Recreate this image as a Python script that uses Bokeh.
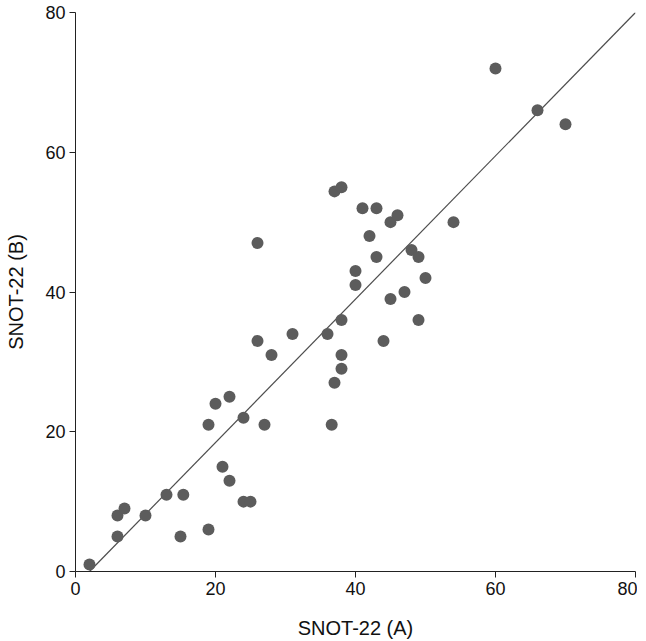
from bokeh.plotting import figure
from bokeh.models import Range1d, FixedTicker, ColumnDataSource
from bokeh.embed import file_html
from bokeh.resources import INLINE

# Data
snot_a = [2, 6, 7, 6, 10, 13, 15.4, 15, 19, 19, 20, 21, 22, 22, 24, 24, 25,
          26, 26, 27, 28, 31, 36, 36.6, 37, 37, 38, 38, 38, 38, 40, 40, 41,
          42, 43, 43, 44, 45, 45, 46, 47, 48, 49, 49, 50, 54, 60, 66, 70]
snot_b = [1, 8, 9, 5, 8, 11, 11, 5, 6, 21, 24, 15, 13, 25, 22, 10, 10,
          47, 33, 21, 31, 34, 34, 21, 27, 54.4, 55, 36, 31, 29, 43, 41, 52,
          48, 52, 45, 33, 50, 39, 51, 40, 46, 45, 36, 42, 50, 72, 66, 64]
fit_x = [2.0, 80.0]
fit_y = [0.0, 80.0]
ticks = [0, 20, 40, 60, 80]

FONT = "Liberation Sans"

p = figure(frame_width=560, frame_height=559,
           x_range=Range1d(0, 80), y_range=Range1d(0, 80),
           output_backend="svg", toolbar_location=None,
           min_border_left=75, min_border_top=12, min_border_right=2,
           min_border_bottom=8)
p.outline_line_color = None
p.grid.visible = False
p.background_fill_color = "white"

src = ColumnDataSource(dict(a=snot_a, b=snot_b))
p.line(fit_x, fit_y, line_color="#4d4d4d", line_width=1.2)
p.scatter("a", "b", source=src, size=12, fill_color="#5c5c5c",
          line_color=None)

for ax in (p.xaxis[0], p.yaxis[0]):
    ax.ticker = FixedTicker(ticks=ticks)
    ax.minor_tick_line_color = None
    ax.major_tick_in = 0
    ax.major_tick_out = 6
    ax.axis_line_color = "#222222"
    ax.major_tick_line_color = "#222222"
    ax.major_label_text_font = FONT
    ax.major_label_text_font_size = "18px"
    ax.major_label_text_color = "#111111"
    ax.axis_label_text_font = FONT
    ax.axis_label_text_font_size = "20px"
    ax.axis_label_text_font_style = "normal"
    ax.axis_label_text_color = "#111111"
    ax.major_label_standoff = 4

p.xaxis.axis_label = "SNOT-22 (A)"
p.yaxis.axis_label = "SNOT-22 (B)"
p.xaxis.axis_label_standoff = 19
p.yaxis.axis_label_standoff = 15

open("out.html", "w").write(file_html(p, INLINE))
